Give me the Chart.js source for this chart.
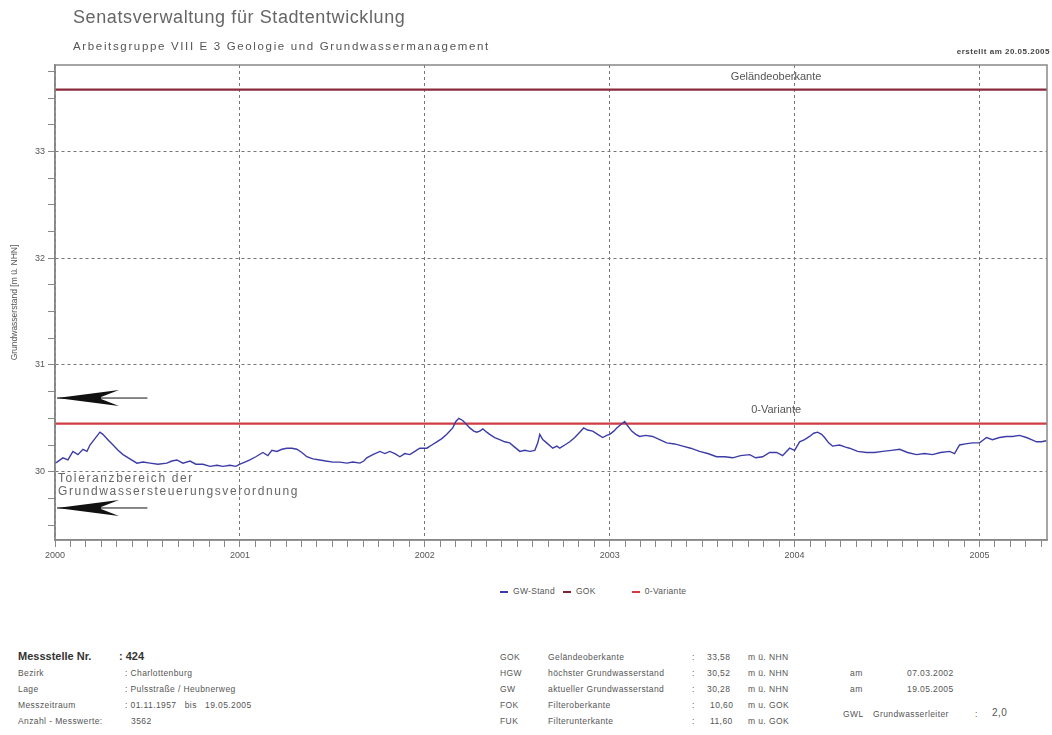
<!DOCTYPE html>
<html>
<head>
<meta charset="utf-8">
<script src="https://cdn.jsdelivr.net/npm/chart.js@4.4.1/dist/chart.umd.min.js"></script>
<style>
  body { margin: 0; background: #fff; font-family: "Liberation Sans", Arial, sans-serif; color: #555; }
  #wrap { position: relative; width: 1052px; height: 735px; overflow: hidden; }
  #cv { position: absolute; left: 0; top: 0; }
  .t { position: absolute; white-space: nowrap; }
  #h1 { left: 73px; top: 7px; font-size: 18px; color: #666; letter-spacing: 0.6px; }
  #h2 { left: 73px; top: 40px; font-size: 11.5px; color: #555; letter-spacing: 1.65px; }
  #h3 { right: 2px; top: 47px; font-size: 8px; font-weight: bold; color: #444; letter-spacing: 0.5px; }
  #legend { left: 500px; top: 586px; font-size: 8.5px; color: #555; letter-spacing: 0.3px; }
  #legend span { margin-right: 8px; }
  #legend i { display: inline-block; width: 8px; height: 2px; vertical-align: middle; margin-right: 5px; }
  .f { font-size: 8.5px; color: #555; letter-spacing: 0.4px; }
  .fb { font-size: 11px; font-weight: bold; color: #333; }
</style>
</head>
<body>
<div id="wrap">
  <canvas id="cv" width="1052" height="580"></canvas>
  <div class="t" id="h1">Senatsverwaltung für Stadtentwicklung</div>
  <div class="t" id="h2">Arbeitsgruppe VIII E 3 Geologie und Grundwassermanagement</div>
  <div class="t" id="h3">erstellt am 20.05.2005</div>
  <div class="t" id="legend"><span><i style="background:#3c3ca8"></i>GW-Stand</span><span><i style="background:#7a2434"></i>GOK</span><span style="margin-left:28px"><i style="background:#d03c44"></i>0-Variante</span></div>

  <div class="t fb" style="left:18px;top:650px">Messstelle Nr.</div>
  <div class="t fb" style="left:119px;top:650px">: 424</div>
  <div class="t f" style="left:18px;top:668px">Bezirk</div>
  <div class="t f" style="left:125px;top:668px">: Charlottenburg</div>
  <div class="t f" style="left:18px;top:684px">Lage</div>
  <div class="t f" style="left:125px;top:684px">: Pulsstraße / Heubnerweg</div>
  <div class="t f" style="left:18px;top:700px">Messzeitraum</div>
  <div class="t f" style="left:125px;top:700px">: 01.11.1957 &nbsp; bis &nbsp; 19.05.2005</div>
  <div class="t f" style="left:18px;top:716px">Anzahl - Messwerte:</div>
  <div class="t f" style="left:131px;top:716px">3562</div>

  <div class="t f" style="left:500px;top:652px">GOK</div>
  <div class="t f" style="left:548px;top:652px">Geländeoberkante</div>
  <div class="t f" style="left:692px;top:652px">:</div>
  <div class="t f" style="left:707px;top:652px">33,58</div>
  <div class="t f" style="left:748px;top:652px">m ü. NHN</div>

  <div class="t f" style="left:500px;top:668px">HGW</div>
  <div class="t f" style="left:548px;top:668px">höchster Grundwasserstand</div>
  <div class="t f" style="left:692px;top:668px">:</div>
  <div class="t f" style="left:707px;top:668px">30,52</div>
  <div class="t f" style="left:748px;top:668px">m ü. NHN</div>
  <div class="t f" style="left:850px;top:668px">am</div>
  <div class="t f" style="left:907px;top:668px">07.03.2002</div>

  <div class="t f" style="left:500px;top:684px">GW</div>
  <div class="t f" style="left:548px;top:684px">aktueller Grundwasserstand</div>
  <div class="t f" style="left:692px;top:684px">:</div>
  <div class="t f" style="left:707px;top:684px">30,28</div>
  <div class="t f" style="left:748px;top:684px">m ü. NHN</div>
  <div class="t f" style="left:850px;top:684px">am</div>
  <div class="t f" style="left:907px;top:684px">19.05.2005</div>

  <div class="t f" style="left:500px;top:700px">FOK</div>
  <div class="t f" style="left:548px;top:700px">Filteroberkante</div>
  <div class="t f" style="left:692px;top:700px">:</div>
  <div class="t f" style="left:710px;top:700px">10,60</div>
  <div class="t f" style="left:748px;top:700px">m u. GOK</div>

  <div class="t f" style="left:500px;top:716px">FUK</div>
  <div class="t f" style="left:548px;top:716px">Filterunterkante</div>
  <div class="t f" style="left:692px;top:716px">:</div>
  <div class="t f" style="left:710px;top:716px">11,60</div>
  <div class="t f" style="left:748px;top:716px">m u. GOK</div>

  <div class="t f" style="left:843px;top:709px">GWL</div>
  <div class="t f" style="left:873px;top:709px">Grundwasserleiter</div>
  <div class="t f" style="left:975px;top:709px">:</div>
  <div class="t f" style="left:992px;top:707px;font-size:10px">2,0</div>
</div>
<script>
// Messwerte (Jahr als Dezimalzahl, Grundwasserstand m ü. NHN)
var gwYears = [
  2000.000, 2000.011, 2000.043, 2000.070, 2000.097, 2000.124, 2000.151, 2000.173, 2000.189, 2000.216,
  2000.243, 2000.259, 2000.286, 2000.314, 2000.341, 2000.368, 2000.405, 2000.443, 2000.476, 2000.514,
  2000.557, 2000.605, 2000.632, 2000.659, 2000.692, 2000.730, 2000.762, 2000.800, 2000.838, 2000.876,
  2000.908, 2000.946, 2000.978, 2001.000, 2001.027, 2001.054, 2001.086, 2001.124, 2001.151, 2001.173,
  2001.200, 2001.227, 2001.254, 2001.281, 2001.308, 2001.335, 2001.362, 2001.395, 2001.432, 2001.465,
  2001.503, 2001.541, 2001.578, 2001.611, 2001.649, 2001.670, 2001.686, 2001.719, 2001.757, 2001.784,
  2001.811, 2001.838, 2001.865, 2001.892, 2001.919, 2001.946, 2001.973, 2002.011, 2002.038, 2002.065,
  2002.092, 2002.119, 2002.151, 2002.168, 2002.184, 2002.205, 2002.227, 2002.243, 2002.265, 2002.281,
  2002.297, 2002.314, 2002.335, 2002.351, 2002.378, 2002.405, 2002.432, 2002.459, 2002.486, 2002.514,
  2002.541, 2002.568, 2002.595, 2002.611, 2002.622, 2002.638, 2002.659, 2002.692, 2002.714, 2002.730,
  2002.757, 2002.784, 2002.811, 2002.838, 2002.859, 2002.881, 2002.908, 2002.935, 2002.962, 2002.984,
  2003.000, 2003.022, 2003.038, 2003.059, 2003.081, 2003.097, 2003.119, 2003.141, 2003.162, 2003.195,
  2003.232, 2003.270, 2003.308, 2003.351, 2003.395, 2003.438, 2003.486, 2003.530, 2003.578, 2003.622,
  2003.665, 2003.708, 2003.757, 2003.789, 2003.827, 2003.865, 2003.903, 2003.935, 2003.973, 2004.000,
  2004.027, 2004.054, 2004.081, 2004.103, 2004.124, 2004.146, 2004.162, 2004.184, 2004.205, 2004.243,
  2004.276, 2004.297, 2004.341, 2004.389, 2004.432, 2004.476, 2004.524, 2004.568, 2004.611, 2004.659,
  2004.703, 2004.746, 2004.789, 2004.838, 2004.865, 2004.892, 2004.924, 2004.962, 2005.000, 2005.038,
  2005.070, 2005.108, 2005.146, 2005.178, 2005.216, 2005.254, 2005.281, 2005.308, 2005.335, 2005.362
];
var gwLevels = [
  30.08, 30.09, 30.13, 30.11, 30.19, 30.16, 30.21, 30.19, 30.25, 30.31,
  30.37, 30.35, 30.30, 30.25, 30.20, 30.16, 30.12, 30.08, 30.09, 30.08,
  30.07, 30.08, 30.10, 30.11, 30.08, 30.10, 30.07, 30.07, 30.05, 30.06,
  30.05, 30.06, 30.05, 30.07, 30.09, 30.11, 30.14, 30.18, 30.15, 30.20,
  30.19, 30.21, 30.22, 30.22, 30.21, 30.18, 30.14, 30.12, 30.11, 30.10,
  30.09, 30.09, 30.08, 30.09, 30.08, 30.10, 30.13, 30.16, 30.19, 30.17,
  30.19, 30.17, 30.14, 30.17, 30.16, 30.19, 30.22, 30.22, 30.25, 30.28,
  30.31, 30.35, 30.41, 30.47, 30.50, 30.48, 30.44, 30.41, 30.38, 30.37,
  30.38, 30.40, 30.37, 30.35, 30.32, 30.30, 30.28, 30.27, 30.23, 30.19,
  30.20, 30.19, 30.20, 30.27, 30.35, 30.30, 30.27, 30.22, 30.24, 30.22,
  30.25, 30.28, 30.32, 30.37, 30.41, 30.39, 30.38, 30.35, 30.32, 30.34,
  30.35, 30.38, 30.41, 30.44, 30.47, 30.43, 30.38, 30.35, 30.33, 30.34,
  30.33, 30.30, 30.27, 30.26, 30.24, 30.22, 30.19, 30.17, 30.14, 30.14,
  30.13, 30.15, 30.16, 30.13, 30.14, 30.18, 30.18, 30.15, 30.22, 30.20,
  30.28, 30.30, 30.33, 30.36, 30.37, 30.35, 30.32, 30.27, 30.24, 30.25,
  30.23, 30.22, 30.19, 30.18, 30.18, 30.19, 30.20, 30.21, 30.18, 30.16,
  30.17, 30.16, 30.18, 30.19, 30.17, 30.25, 30.26, 30.27, 30.27, 30.32,
  30.30, 30.32, 30.33, 30.33, 30.34, 30.32, 30.30, 30.28, 30.28, 30.29
];
var xRange = [2000, 2005.365];
var yRange = [29.36, 33.81];
var gokLevel = 33.58;      // Geländeoberkante
var oVariante = 30.45;     // 0-Variante
var toleranz = [30.69, 29.66]; // Toleranzbereich (Pfeile)
var yearTicks = [2000, 2001, 2002, 2003, 2004, 2005];
var levelTicks = [30, 31, 32, 33];

function pts(xs, ys) {
  var out = [];
  for (var i = 0; i < xs.length; i++) out.push({x: xs[i], y: ys[i]});
  return out;
}
function isMajor(v, list) {
  for (var i = 0; i < list.length; i++) if (Math.abs(v - list[i]) < 1e-6) return true;
  return false;
}

var annotations = {
  id: 'annotations',
  afterDraw: function (chart) {
    var c = chart.ctx, a = chart.chartArea, xs = chart.scales.x, ys = chart.scales.y;
    c.save();
    // Rahmen
    c.strokeStyle = '#888';
    c.lineWidth = 1.5;
    c.strokeRect(a.left, a.top, a.right - a.left, a.bottom - a.top);
    // Beschriftung der Linien
    c.fillStyle = '#555';
    c.font = '11px "Liberation Sans", Arial, sans-serif';
    c.textAlign = 'center';
    c.fillText('Geländeoberkante', xs.getPixelForValue(2003.9), ys.getPixelForValue(gokLevel) - 10);
    c.fillText('0-Variante', xs.getPixelForValue(2003.9), ys.getPixelForValue(oVariante) - 11);
    // Toleranzbereich
    c.textAlign = 'left';
    c.font = '12px "Liberation Sans", Arial, sans-serif';
    c.letterSpacing = '1.6px';
    c.fillStyle = '#666';
    var y0 = ys.getPixelForValue(30);
    c.fillText('Toleranzbereich der', a.left + 3, y0 + 10);
    c.fillText('Grundwassersteuerungsverordnung', a.left + 3, y0 + 23);
    c.letterSpacing = '0px';
    // Pfeile
    c.fillStyle = '#111';
    c.strokeStyle = '#111';
    c.lineWidth = 1;
    toleranz.forEach(function (v) {
      var y = ys.getPixelForValue(v);
      var x0 = a.left + 2, x1 = xs.getPixelForValue(2000.5);
      c.beginPath();
      c.moveTo(x0, y); c.lineTo(x1, y); c.stroke();
      c.beginPath();
      c.moveTo(x0, y);
      c.lineTo(x0 + 62, y - 8);
      c.lineTo(x0 + 44, y - 1);
      c.lineTo(x0 + 44, y + 1);
      c.lineTo(x0 + 62, y + 8);
      c.closePath();
      c.fill();
    });
    c.restore();
  }
};

new Chart(document.getElementById('cv'), {
  type: 'line',
  data: {
    datasets: [
      { label: 'GW-Stand', data: pts(gwYears, gwLevels), borderColor: '#3c3ca8', borderWidth: 1.4, pointRadius: 0, tension: 0 },
      { label: 'GOK', data: pts(xRange, [gokLevel, gokLevel]), borderColor: '#8a2a3a', borderWidth: 2.2, pointRadius: 0 },
      { label: '0-Variante', data: pts(xRange, [oVariante, oVariante]), borderColor: '#d03c44', borderWidth: 2.2, pointRadius: 0 }
    ]
  },
  options: {
    responsive: false,
    animation: false,
    layout: { padding: { top: 65, right: 5, left: 0, bottom: 0 } },
    plugins: { legend: { display: false }, tooltip: { enabled: false } },
    scales: {
      x: {
        type: 'linear',
        min: xRange[0], max: xRange[1],
        afterBuildTicks: function (s) {
          var t = [];
          for (var m = 0; m <= 64; m++) t.push({value: 2000 + m / 12});
          s.ticks = t;
        },
        afterFit: function (s) { s.height = 40; },
        ticks: {
          autoSkip: false, maxRotation: 0, padding: 3,
          color: '#555', font: { size: 9, family: '"Liberation Sans", Arial' },
          callback: function (v) { return isMajor(v, yearTicks) ? String(Math.round(v)) : ''; }
        },
        grid: {
          color: function (ctx) { return ctx.tick && isMajor(ctx.tick.value, yearTicks) ? '#777' : 'rgba(0,0,0,0)'; },
          tickColor: '#888', tickLength: 7, lineWidth: 1
        },
        border: { color: '#888', width: 1.5, dash: [3, 3] }
      },
      y: {
        min: yRange[0], max: yRange[1],
        afterBuildTicks: function (s) {
          var t = [];
          for (var k = 0; k <= 17; k++) t.push({value: 29.5 + k * 0.25});
          s.ticks = t;
        },
        afterFit: function (s) { s.width = 55; },
        title: { display: true, text: 'Grundwasserstand [m ü. NHN]', color: '#555', font: { size: 8.5, family: '"Liberation Sans", Arial' }, padding: { top: 10, bottom: 0 } },
        ticks: {
          autoSkip: false, padding: 3,
          color: '#555', font: { size: 9, family: '"Liberation Sans", Arial' },
          callback: function (v) { return isMajor(v, levelTicks) ? String(Math.round(v)) : ''; }
        },
        grid: {
          color: function (ctx) { return ctx.tick && isMajor(ctx.tick.value, levelTicks) ? '#777' : 'rgba(0,0,0,0)'; },
          tickColor: '#888', tickLength: 7, lineWidth: 1
        },
        border: { color: '#888', width: 1.5, dash: [3, 3] }
      }
    }
  },
  plugins: [annotations]
});
</script>
</body>
</html>
